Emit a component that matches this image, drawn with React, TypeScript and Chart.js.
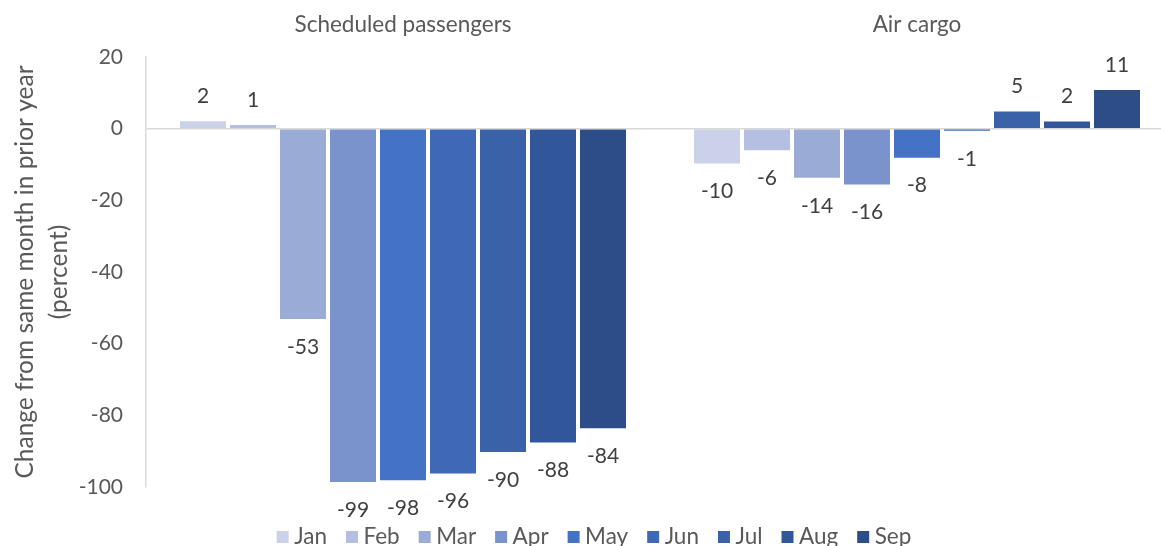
import React, { useEffect, useRef } from "react";
import { Chart, registerables } from "chart.js";

Chart.register(...registerables);

const categories = ["Scheduled passengers", "Air cargo"];
const months = ["Jan", "Feb", "Mar", "Apr", "May", "Jun", "Jul", "Aug", "Sep"];
const passengerValues = [2.1, 1.0, -53.1, -98.6, -98.1, -96.2, -90.2, -87.6, -83.6];
const cargoValues = [-9.7, -6.0, -13.7, -15.6, -8.1, -0.6, 4.8, 2.0, 10.8];
const monthColors = [
  "#CBD1E9",
  "#B4BFE1",
  "#9AABD6",
  "#7A93CD",
  "#4472C4",
  "#3F69B7",
  "#3A62A8",
  "#31579A",
  "#2C4D88",
];
const yTicks = [20, 0, -20, -40, -60, -80, -100];

const FONT = "Lato, 'Open Sans', sans-serif";
const FONT_SIZE = 21;
const TEXT_SIZE = 22.5;
const TITLE_SIZE = 24.5;

const dataLabelPlugin = {
  id: "dataLabels",
  afterDatasetsDraw(chart: any) {
    const ctx = chart.ctx;
    ctx.save();
    ctx.font = `${FONT_SIZE}px ${FONT}`;
    ctx.fillStyle = "#404040";
    ctx.textAlign = "center";
    ctx.textBaseline = "middle";
    chart.data.datasets.forEach((ds: any, di: number) => {
      const meta = chart.getDatasetMeta(di);
      meta.data.forEach((el: any, i: number) => {
        const v = ds.data[i] as number;
        const txt = String(Math.round(v));
        const y = v >= 0 ? el.y - 25 : el.y + 28;
        ctx.fillText(txt, el.x, y);
      });
    });
    ctx.restore();
  },
};

const legendPlugin = {
  id: "customLegend",
  afterDraw(chart: any) {
    const ctx = chart.ctx;
    ctx.save();
    ctx.font = `${TEXT_SIZE}px ${FONT}`;
    ctx.textBaseline = "middle";
    ctx.textAlign = "left";
    const box = 12;
    const gapText = 5.5;
    const gapItem = 19;
    const items = chart.data.datasets.map((ds: any) => ({
      label: ds.label as string,
      color: ds.backgroundColor as string,
      w: box + gapText + ctx.measureText(ds.label).width,
    }));
    const total =
      items.reduce((s: number, it: any) => s + it.w, 0) + gapItem * (items.length - 1);
    const centerX = (chart.chartArea.left + chart.chartArea.right) / 2 - 66;
    let x = centerX - total / 2;
    const y = chart.chartArea.bottom + 50;
    items.forEach((it: any) => {
      ctx.fillStyle = it.color;
      ctx.fillRect(x, y - box / 2, box, box);
      ctx.fillStyle = "#595959";
      ctx.fillText(it.label, x + box + gapText, y);
      x += it.w + gapItem;
    });
    ctx.restore();
  },
};

export default function App() {
  const canvasRef = useRef<HTMLCanvasElement | null>(null);

  useEffect(() => {
    const canvas = canvasRef.current;
    if (!canvas) return;
    const datasets = months.map((m, i) => ({
      label: m,
      data: [passengerValues[i], cargoValues[i]],
      backgroundColor: monthColors[i],
      borderWidth: 0,
      barPercentage: 0.92,
      categoryPercentage: 0.8755,
    }));

    const chart = new Chart(canvas, {
      type: "bar",
      data: { labels: categories, datasets },
      options: {
        responsive: false,
        animation: false,
        devicePixelRatio: 1,
        layout: { padding: { top: 0, bottom: 59, left: 0, right: 1 } },
        plugins: {
          legend: { display: false },
          tooltip: { enabled: false },
        },
        scales: {
          x: {
            position: "top",
            offset: true,
            grid: { display: false, drawTicks: false },
            border: { display: false },
            ticks: {
              color: "#595959",
              font: { family: FONT, size: TEXT_SIZE },
              padding: 19,
              maxRotation: 0,
            },
            afterFit(scale: any) {
              scale.height = 57;
            },
          },
          y: {
            min: -100,
            max: 20,
            afterBuildTicks(scale: any) {
              scale.ticks = yTicks.map((v) => ({ value: v }));
            },
            grid: {
              drawTicks: false,
              color: (c: any) => (c.tick && c.tick.value === 0 ? "#D9D9D9" : "rgba(0,0,0,0)"),
              lineWidth: 1.5,
            },
            border: { display: true, color: "#D9D9D9", width: 1.5 },
            ticks: {
              color: "#595959",
              font: { family: FONT, size: FONT_SIZE },
              padding: 23,
            },
            title: {
              display: true,
              text: ["Change from same month in prior year", "(percent)"],
              color: "#595959",
              font: { family: FONT, size: TITLE_SIZE, lineHeight: 1.38 },
              padding: { top: 8, bottom: 0 },
            },
            afterFit(scale: any) {
              scale.width = 146;
            },
          },
        },
      },
      plugins: [dataLabelPlugin, legendPlugin],
    });
    return () => chart.destroy();
  }, []);

  return (
    <div
      style={{
        position: "fixed",
        left: 0,
        top: 0,
        width: 1161,
        height: 546,
        overflow: "hidden",
        background: "#fff",
      }}
    >
      <canvas
        ref={canvasRef}
        width={1175}
        height={546}
        style={{ width: 1175, height: 546, display: "block" }}
      />
    </div>
  );
}
